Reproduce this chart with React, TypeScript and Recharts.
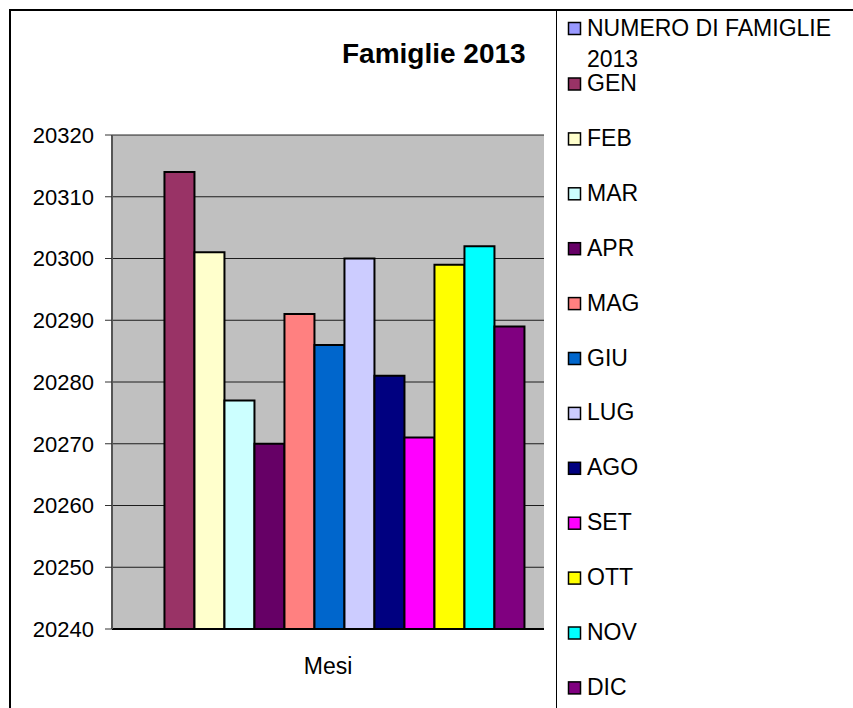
import { Bar, BarChart, CartesianGrid, XAxis, YAxis } from "recharts";

const months = ["GEN", "FEB", "MAR", "APR", "MAG", "GIU", "LUG", "AGO", "SET", "OTT", "NOV", "DIC"];
const values = [20314, 20301, 20277, 20270, 20291, 20286, 20300, 20281, 20271, 20299, 20302, 20289];
const colors = [
  "#993366", "#FFFFCC", "#CCFFFF", "#660066", "#FF8080", "#0066CC",
  "#CCCCFF", "#000080", "#FF00FF", "#FFFF00", "#00FFFF", "#800080",
];
const yTicks = [20240, 20250, 20260, 20270, 20280, 20290, 20300, 20310, 20320];
const category = "Mesi";
// first series in the legend has no visible bar (empty slot before GEN)
const seriesName = "NUMERO DI FAMIGLIE 2013";
const seriesValue: number | null = null;
const seriesColor = "#9999FF";
const title = "Famiglie 2013";

const FONT = "'Liberation Sans', Arial, sans-serif";

const row: Record<string, string | number | null> = { name: category, [seriesName]: seriesValue };
months.forEach((m, i) => {
  row[m] = values[i];
});
const data = [row];

function LegendPanel() {
  return (
    <svg width={297} height={708} style={{ position: "absolute", left: 556, top: 0 }}>
      <line x1={0.5} y1={10} x2={0.5} y2={708} stroke="#000" strokeWidth={1} />
      <rect x={12.5} y={22.5} width={12} height={12} fill={seriesColor} stroke="#000" strokeWidth={1.5} />
      <text x={31} y={36} fontSize={23} fontFamily={FONT} fill="#000">NUMERO DI FAMIGLIE</text>
      <text x={31} y={67} fontSize={23} fontFamily={FONT} fill="#000">2013</text>
      {months.map((m, i) => {
        const base = 91 + i * 54.9;
        return (
          <g key={m}>
            <rect x={12.5} y={base - 13} width={12} height={12} fill={colors[i]} stroke="#000" strokeWidth={1.5} />
            <text x={31} y={base} fontSize={23} fontFamily={FONT} fill="#000">{m}</text>
          </g>
        );
      })}
    </svg>
  );
}

export default function App() {
  return (
    <div style={{ position: "absolute", left: 0, top: 0, width: 853, height: 708, background: "#fff", fontFamily: FONT }}>
      <div style={{ position: "absolute", left: 9, top: 9, width: 844, height: 699, borderTop: "2px solid #000", borderLeft: "2px solid #000" }} />
      <BarChart
        width={853}
        height={708}
        data={data}
        margin={{ top: 135, right: 309, bottom: 0, left: 0 }}
        barCategoryGap="5.2%"
        barGap={0}
        style={{ position: "absolute", left: 0, top: 0 }}
      >
        <CartesianGrid vertical={false} stroke="#000" strokeOpacity={0.85} fill="#C0C0C0" fillOpacity={1} />
        <XAxis
          dataKey="name"
          height={79}
          tickLine={false}
          tickSize={0}
          tickMargin={29}
          axisLine={{ stroke: "#000", strokeWidth: 2 }}
          tick={{ fill: "#000", fontSize: 23, fontFamily: FONT }}
        />
        <YAxis
          width={112}
          domain={[20240, 20320]}
          ticks={yTicks}
          interval={0}
          tickSize={7}
          tickMargin={11}
          axisLine={{ stroke: "#555", strokeWidth: 2 }}
          tickLine={{ stroke: "#333" }}
          tick={{ fill: "#000", fontSize: 22, fontFamily: FONT }}
        />
        <YAxis
          yAxisId="border"
          orientation="right"
          width={0}
          domain={[0, 1]}
          tick={false}
          tickLine={false}
          axisLine={{ stroke: "#808080", strokeWidth: 2 }}
        />
        <Bar dataKey={seriesName} fill={seriesColor} stroke="#000" strokeWidth={2} isAnimationActive={false} />
        {months.map((m, i) => (
          <Bar key={m} dataKey={m} fill={colors[i]} stroke="#000" strokeWidth={2} isAnimationActive={false} />
        ))}
      </BarChart>
      <svg width={853} height={100} style={{ position: "absolute", left: 0, top: 0 }}>
        <line x1={112} y1={135} x2={544} y2={135} stroke="#808080" strokeWidth={2} />
        <text x={342} y={63} fontSize={28} fontWeight="bold" fontFamily={FONT} fill="#000">{title}</text>
      </svg>
      <LegendPanel />
    </div>
  );
}
